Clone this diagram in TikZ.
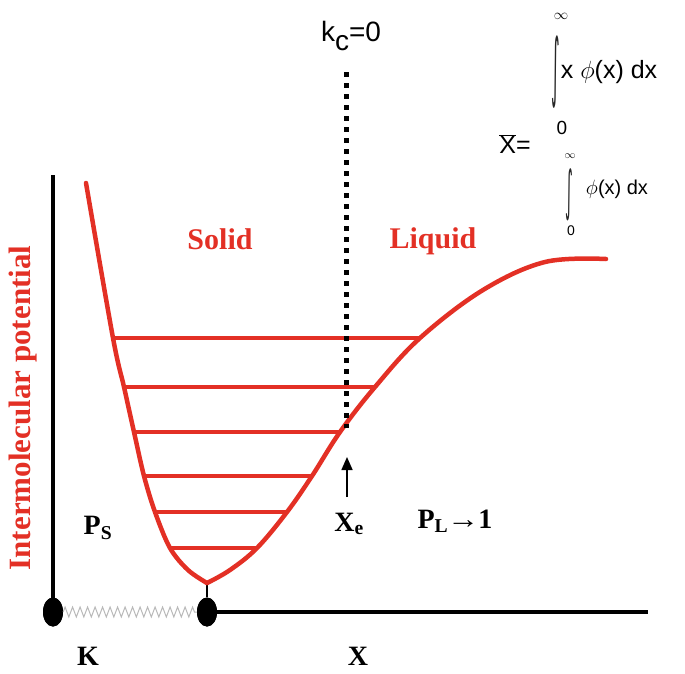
\documentclass[tikz,border=0pt]{standalone}
\usepackage{fontspec}
\setmainfont{Liberation Serif}
\newfontfamily\sansf{Liberation Sans}
\newfontfamily\dejavu{DejaVu Sans}
\usetikzlibrary{arrows.meta,decorations.pathmorphing,shapes.geometric}
\definecolor{pred}{RGB}{227,48,37}
\begin{document}
\begin{tikzpicture}[x=1pt,y=-1pt,
  curve/.style={draw=pred, line width=4.5pt, line join=round, line cap=round},
  level/.style={draw=pred, line width=4pt},
  axis/.style={draw=black, line width=4pt},
  lbl/.style={font=\bfseries\fontsize{28}{28}\selectfont, inner sep=0pt},
  redlbl/.style={text=pred, font=\bfseries\fontsize{30}{30}\selectfont, inner sep=0pt},
  ball/.style={ellipse, fill=black, minimum width=20pt, minimum height=29pt, inner sep=0pt},
  frm/.style={font=\sansf\fontsize{#1}{#1}\selectfont, inner sep=0pt},
  intsign/.style={font=\dejavu\fontsize{30}{30}\selectfont, inner sep=0pt, text=black!85}
]
\useasboundingbox (0,0) rectangle (685,673);
% coordinates of the well
\coordinate (T) at (86,183);
\coordinate (C) at (207,583);
\coordinate (E) at (606,259);
\coordinate (A1) at (113,338); \coordinate (B1) at (420,338);
\coordinate (A2) at (124,387); \coordinate (B2) at (375,387);
\coordinate (A3) at (134,432); \coordinate (B3) at (340,432);
\coordinate (A4) at (144,476); \coordinate (B4) at (312,476);
\coordinate (A5) at (155,512); \coordinate (B5) at (287,512);
\coordinate (A6) at (170,548); \coordinate (B6) at (257,548);
% axes
\coordinate (ytop) at (53,175);
\coordinate (xend) at (648,612);
\node[ball] (b1) at (53,612) {};
\node[ball] (b2) at (207,612) {};
\draw[axis] (ytop) -- (b1.center);
\draw[axis] (b2.center) -- (xend);
\node[ball] at (b1) {};
\node[ball] at (b2) {};
\draw[gray!55, line width=1pt, decorate, decoration={zigzag, segment length=7.5pt, amplitude=5pt}] (b1.east) -- (b2.west);
\draw[line width=1.2pt] (C) -- (b2.north);
% potential curve
\draw[curve] plot[smooth, tension=0.55] coordinates {(T) (A1) (A2) (A3) (A4) (A5) (A6) (188,570) (C)};
\draw[curve] plot[smooth, tension=0.6] coordinates {(C) (230,570) (B6) (B5) (B4) (B3) (B2) (B1) (483,290) (545,262) (E)};
% energy levels
\foreach \i in {1,...,6} { \draw[level] (A\i) -- (B\i); }
% dotted line
\coordinate (d0) at (346,72);
\coordinate (d1) at (346,428);
\draw[line width=5pt, dash pattern=on 5pt off 6pt] (d0) -- (d1);
% arrow to Xe
\coordinate (ar0) at (347,497);
\coordinate (ar1) at (347,457);
\draw[line width=1.6pt, -{Triangle[length=13pt,width=11pt]}] (ar0) -- (ar1);
% labels
\node[redlbl] (solid) at (220,239) {Solid};
\node[redlbl] (liquid) at (433,241) {Liquid};
\node[redlbl, rotate=90, font=\bfseries\fontsize{31}{31}\selectfont] (ylab) at (23,408) {Intermolecular potential};
\node[lbl] (ps) at (98,528) {P\textsubscript{S}};
\node[lbl] (xe) at (349,524) {X\textsubscript{e}};
\node[lbl] (pl) at (455,521) {P\textsubscript{L}\kern-1pt\scalebox{1.15}[1]{→}\kern-1pt 1};
\node[lbl] (k) at (88,656) {K};
\node[lbl] (xl) at (358,656) {X};
\node[frm=28] (kc) at (351,36) {k\raisebox{-9pt}{c}=0};
% formula
\node[frm=25] (xbar) at (515,144) {$\overline{\hbox{X}}$=};
\coordinate (f0) at (537,142);
\coordinate (f1) at (683,142);
\draw[draw=black!70, line width=0.7pt, double distance=1.3pt] (f0) -- (f1);
\node[intsign] (int1) at (556,72) {\scalebox{0.55}[2.5]{∫}};
\node[frm=15] (inf1) at (561,16) {$\infty$};
\node[frm=19] (z1) at (562,128) {0};
\node[frm=25] (num) at (609,72) {x $\phi$(x) dx};
\node[intsign] (int2) at (569,195) {\scalebox{0.5}[1.8]{∫}};
\node[frm=11] (inf2) at (570,156) {$\infty$};
\node[frm=14] (z2) at (571,231) {0};
\node[frm=20] (den) at (617,189) {$\phi$(x) dx};
\end{tikzpicture}
\end{document}
